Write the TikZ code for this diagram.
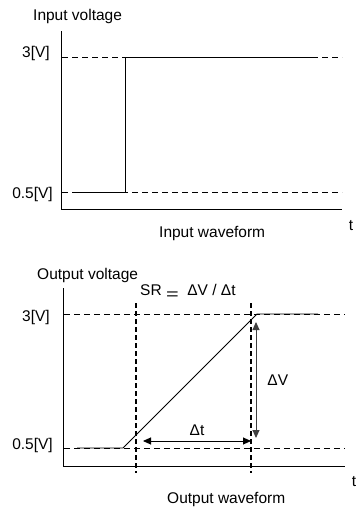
\documentclass[tikz,border=0pt]{standalone}
\usepackage{graphicx}
\usepackage{fontspec}
\setmainfont{Liberation Sans}
\usetikzlibrary{arrows.meta,positioning}

\begin{document}
\begin{tikzpicture}[x=1pt,y=-1pt,
  every node/.style={font=\fontsize{15.5}{18}\selectfont,inner sep=0pt},
  axis/.style={line width=0.9pt},
  lvl/.style={line width=0.7pt,dash pattern=on 6pt off 4pt},
  sig/.style={line width=0.9pt},
  guide/.style={line width=1.8pt,dash pattern=on 5pt off 3pt},
  arr/.style={{Triangle[length=8pt,width=7pt]}-{Triangle[length=8pt,width=7pt]},line width=0.9pt}]
\useasboundingbox (0,0) rectangle (356,507);
% input waveform
\node[anchor=base west] (inlabel) at (33,20) {Input voltage};
\node[anchor=base east] (inhi) at (50,57) {3[V]};
\node[anchor=base east] (inlo) at (53,198) {0.5[V]};
\node[anchor=base] (int) at (351,230) {t};
\node[anchor=base west] (intitle) at (159,237) {Input waveform};
\coordinate (io) at (61,209);
\draw[axis] (61,31) -- (io) -- (342,209);
\draw[lvl] (62,57) -- (342,57);
\draw[lvl] (62,192) -- (342,192);
\draw[sig] (77,192) -- (125,192) -- (125,57) -- (313,57);
% output waveform
\node[anchor=base west] (outlabel) at (37,279) {Output voltage};
\node[anchor=base east] (outhi) at (50,321) {3[V]};
\node[anchor=base east] (outlo) at (53,449) {0.5[V]};
\node[anchor=base] (outt) at (354,486) {t};
\node[anchor=base west] (outtitle) at (167,503) {Output waveform};
\node[anchor=base west] (sr) at (140,295) {SR\ \raisebox{-4pt}{\scalebox{1.4}[1]{=}}\ \ ΔV / Δt};
\coordinate (oo) at (63,466);
\draw[axis] (63,288) -- (oo) -- (345,466);
\draw[lvl] (64,314) -- (345,314);
\draw[lvl] (64,448) -- (345,448);
\coordinate (rs) at (123,448);
\coordinate (re) at (257,314);
\draw[sig] (77,448) -- (rs) -- (re) -- (318,314);
\coordinate (g1) at (136,303);
\coordinate (g2) at (251,303);
\draw[guide] (g1) -- (136,473);
\draw[guide] (g2) -- (251,473);
% delta arrows
\coordinate (dvt) at (256,322);
\coordinate (dvb) at (256,438);
\draw[arr,black!75] (dvt) -- (dvb) node[midway,right=11pt,black] (dv) {ΔV};
\coordinate (dtl) at (143,441);
\coordinate (dtr) at (251,441);
\draw[arr] (dtl) -- (dtr);
\node[anchor=base] (dt) at (197,435) {Δt};
\end{tikzpicture}
\end{document}
